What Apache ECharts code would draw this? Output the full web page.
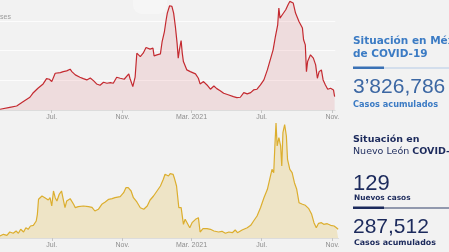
<!DOCTYPE html>
<html><head><meta charset="utf-8">
<script src="https://cdn.jsdelivr.net/npm/echarts@6/dist/echarts.min.js"></script>
<style>html,body{margin:0;padding:0;background:#f2f2f2;overflow:hidden}#c{width:449px;height:252px;}</style>
</head><body><div id="c"></div>
<script>
// México: casos diarios
const mxDates = ['2020-04-02','2020-04-19','2020-05-01','2020-05-12','2020-05-24','2020-05-29','2020-06-07','2020-06-16','2020-06-22','2020-06-27',
'2020-07-01','2020-07-07','2020-07-16','2020-07-21','2020-07-27','2020-08-02','2020-08-05','2020-08-11','2020-08-14','2020-08-19',
'2020-08-25','2020-08-31','2020-09-06','2020-09-12','2020-09-17','2020-09-23','2020-09-29','2020-10-05','2020-10-11','2020-10-16',
'2020-10-22','2020-10-28','2020-11-04','2020-11-12','2020-11-14','2020-11-19','2020-11-23','2020-11-26','2020-11-29','2020-12-02',
'2020-12-07','2020-12-12','2020-12-19','2020-12-24','2020-12-26','2020-12-31','2021-01-06','2021-01-09','2021-01-13','2021-01-16',
'2021-01-18','2021-01-22','2021-01-26','2021-01-29','2021-02-01','2021-02-04','2021-02-06','2021-02-08','2021-02-11','2021-02-13',
'2021-02-15','2021-02-21','2021-02-27','2021-03-08','2021-03-13','2021-03-16','2021-03-22','2021-03-28','2021-04-03','2021-04-09',
'2021-04-14','2021-04-20','2021-04-26','2021-05-05','2021-05-13','2021-05-19','2021-05-25','2021-05-31','2021-06-06','2021-06-12',
'2021-06-17','2021-06-23','2021-06-29','2021-07-05','2021-07-11','2021-07-16','2021-07-21','2021-07-25','2021-07-29','2021-07-31',
'2021-08-02','2021-08-06','2021-08-12','2021-08-16','2021-08-19','2021-08-22','2021-08-25','2021-08-29','2021-09-04','2021-09-10',
'2021-09-12','2021-09-15','2021-09-17','2021-09-19','2021-09-24','2021-09-29','2021-10-03','2021-10-06','2021-10-09','2021-10-13',
'2021-10-16','2021-10-20','2021-10-24','2021-10-29','2021-11-03','2021-11-05'];
const mxValues = [120,455,674,1400,2140,2810,3660,4380,5270,5170,
4770,6180,6290,6450,6570,6860,6450,5900,6120,5510,
5270,5055,5390,4890,4380,4160,4670,4500,4600,4500,
5510,5340,5170,6070,5340,3930,5510,9550,9720,8980,
9550,10500,10230,10400,9100,9270,9440,11510,13190,15170,
16290,17520,17410,16290,14040,11240,8710,10110,11680,9550,
8140,6740,6450,6070,5340,4380,4770,4210,3490,4040,
3590,3250,2810,2530,2240,2070,2140,2920,2700,2920,
3370,3490,4210,5055,6740,8430,10110,12350,14320,17140,
15450,16010,16850,17690,18250,18530,17980,16290,14880,13770,
11800,10950,6450,8140,9270,8710,7580,5340,6450,6740,
5055,4210,3490,3660,3370,2240];

// Nuevo León: casos diarios
const nlDates = ['2020-04-02','2020-04-08','2020-04-14','2020-04-19','2020-04-25','2020-04-30','2020-05-04','2020-05-08','2020-05-13','2020-05-17',
'2020-05-21','2020-05-25','2020-05-30','2020-06-04','2020-06-06','2020-06-08','2020-06-11','2020-06-14','2020-06-16','2020-06-19',
'2020-06-22','2020-06-25','2020-06-28','2020-07-01','2020-07-04','2020-07-07','2020-07-10','2020-07-14','2020-07-18','2020-07-21',
'2020-07-24','2020-07-27','2020-07-30','2020-08-02','2020-08-05','2020-08-08','2020-08-11','2020-08-16','2020-08-25','2020-09-03',
'2020-09-09','2020-09-14','2020-09-20','2020-09-26','2020-10-02','2020-10-08','2020-10-14','2020-10-19','2020-10-28','2020-11-03',
'2020-11-07','2020-11-11','2020-11-16','2020-11-20','2020-11-26','2020-12-02','2020-12-08','2020-12-14','2020-12-19','2020-12-25',
'2020-12-31','2021-01-06','2021-01-11','2021-01-14','2021-01-17','2021-01-20','2021-01-23','2021-01-28','2021-01-30','2021-02-03',
'2021-02-07','2021-02-11','2021-02-14','2021-02-15','2021-02-18','2021-02-21','2021-02-26','2021-03-02','2021-03-08','2021-03-13',
'2021-03-16','2021-03-21','2021-03-28','2021-04-03','2021-04-09','2021-04-17','2021-04-23','2021-04-29','2021-05-05','2021-05-11',
'2021-05-16','2021-05-20','2021-05-28','2021-06-06','2021-06-12','2021-06-17','2021-06-23','2021-06-29','2021-07-05','2021-07-11',
'2021-07-15','2021-07-19','2021-07-22','2021-07-24','2021-07-26','2021-07-28','2021-07-31','2021-08-03','2021-08-05','2021-08-07',
'2021-08-10','2021-08-13','2021-08-15','2021-08-19','2021-08-23','2021-08-27','2021-08-31','2021-09-04','2021-09-10','2021-09-15',
'2021-09-21','2021-09-26','2021-09-30','2021-10-04','2021-10-08','2021-10-13','2021-10-17','2021-10-23','2021-10-29','2021-11-04',
'2021-11-08','2021-11-11'];
const nlValues = [26,48,35,78,61,91,61,113,78,134,
113,156,165,221,308,503,524,546,568,524,
546,494,524,416,611,524,481,568,611,503,
394,481,503,511,503,438,394,407,416,407,
399,351,373,438,468,503,511,524,537,589,
654,654,611,524,468,394,373,416,494,546,
611,676,763,828,841,806,836,828,784,676,
394,394,373,178,243,221,134,199,243,264,
78,121,121,113,91,78,87,61,78,69,
104,69,104,134,165,221,286,394,524,633,
763,893,849,1196,1495,1196,1304,1196,936,1369,
1475,1326,1023,893,849,719,633,459,438,425,
381,308,199,134,191,199,178,186,165,156,
134,113];

const tickDates = ['2020-07-01','2020-11-01','2021-03-01','2021-07-01','2021-11-01'];
const tickLabels = ['Jul.','Nov.','Mar. 2021','Jul.','Nov.'];

function ts(s){const p=s.split('-');return Date.UTC(+p[0],+p[1]-1,+p[2]);}
const tickTs = tickDates.map(ts);
function fmt(v){const i=tickTs.indexOf(v);return i>=0?tickLabels[i]:'';}

const chart = echarts.init(document.getElementById('c'), null, {renderer:'canvas'});

function xAx(gi, maxDate){
  return {type:'value', gridIndex:gi, min:ts('2020-04-02'), max:ts(maxDate), scale:true,
    axisLine:{show:true, lineStyle:{color:'#dcdcdc', width:1}},
    axisTick:{show:true, customValues:tickTs, length:3, lineStyle:{color:'#c6c6c6'}},
    axisLabel:{show:true, customValues:tickTs, formatter:fmt, fontSize:7, color:'#8e8e8e', margin:4, fontFamily:'Liberation Sans', hideOverlap:false},
    splitLine:{show:false}};
}

const font = '"DejaVu Sans", "Noto Sans", sans-serif';
const numFont = '"Liberation Sans", Arial, sans-serif';

chart.setOption({
  animation:false,
  backgroundColor:'#f2f2f2',
  grid:[
    {left:0, top:-9, width:335.2, height:119, outerBoundsMode:'none', containLabel:false},
    {left:0, top:122.6, width:338.7, height:115.4, outerBoundsMode:'none', containLabel:false}
  ],
  xAxis:[ xAx(0,'2021-11-06'), xAx(1,'2021-11-12') ],
  yAxis:[
    {type:'value', gridIndex:0, min:0, max:20000, interval:5000,
     axisLabel:{show:false}, axisLine:{show:false}, axisTick:{show:false},
     splitLine:{show:true, lineStyle:{color:'#fcfcfc', width:1}}},
    {type:'value', gridIndex:1, min:0, max:1500,
     axisLabel:{show:false}, axisLine:{show:false}, axisTick:{show:false},
     splitLine:{show:false}}
  ],
  series:[
    {type:'line', xAxisIndex:0, yAxisIndex:0, symbol:'none', smooth:false,
     data: mxDates.map((d,i)=>[ts(d), mxValues[i]]),
     lineStyle:{color:'#c42a30', width:1.2},
     areaStyle:{color:'rgba(210,40,50,0.15)'}},
    {type:'line', xAxisIndex:1, yAxisIndex:1, symbol:'none', smooth:false,
     data: nlDates.map((d,i)=>[ts(d), nlValues[i]]),
     lineStyle:{color:'#dcae2e', width:1.2},
     areaStyle:{color:'rgba(225,180,40,0.30)'}}
  ],
  graphic:[
    {type:'rect', shape:{x:133, y:-12, width:34, height:26, r:9}, style:{fill:'rgba(255,255,255,0.35)'}, z:-1, silent:true},
    {type:'text', style:{x:0, y:17, text:'ses', font:'7px '+numFont, fill:'#9a9a9a', textVerticalAlign:'middle'}},
    {type:'text', style:{x:353, y:41, text:'Situación en México', font:'bold 10.5px '+font, fill:'#3b7bc4', textVerticalAlign:'middle'}},
    {type:'text', style:{x:353, y:54.5, text:'de COVID-19', font:'bold 10.5px '+font, fill:'#3b7bc4', textVerticalAlign:'middle'}},
    {type:'rect', shape:{x:384, y:67.5, width:65, height:1}, style:{fill:'#b3c9e6'}},
    {type:'rect', shape:{x:353, y:66.5, width:31, height:2.5}, style:{fill:'#3a71b5'}},
    {type:'text', style:{x:353, y:87.5, text:'3\u2019826,786', font:'21px '+numFont, fill:'#3c67a3', textVerticalAlign:'middle'}},
    {type:'text', style:{x:353, y:105, text:'Casos acumulados', font:'bold 8.2px '+font, fill:'#3b7bc4', textVerticalAlign:'middle'}},
    {type:'text', style:{x:353, y:139.5, text:'Situación en', font:'bold 9.5px '+font, fill:'#1c2a5c', textVerticalAlign:'middle'}},
    {type:'text', style:{x:353, y:151.5, text:'{r|Nuevo León }{b|COVID-19}', textVerticalAlign:'middle',
      rich:{r:{font:'9.5px '+font, fill:'#1c2a5c'}, b:{font:'bold 9.5px '+font, fill:'#1c2a5c'}}}},
    {type:'text', style:{x:353, y:183.5, text:'129', font:'22px '+numFont, fill:'#1c2a5c', textVerticalAlign:'middle'}},
    {type:'text', style:{x:354, y:198.5, text:'Nuevos casos', font:'bold 7.4px '+font, fill:'#1c2a5c', textVerticalAlign:'middle'}},
    {type:'rect', shape:{x:353, y:207.5, width:96, height:1}, style:{fill:'#33406a'}},
    {type:'rect', shape:{x:353, y:206.5, width:31, height:2.5}, style:{fill:'#1c2a5c'}},
    {type:'text', style:{x:353, y:227.5, text:'287,512', font:'21px '+numFont, fill:'#1c2a5c', textVerticalAlign:'middle'}},
    {type:'text', style:{x:354, y:242.5, text:'Casos acumulados', font:'bold 7.9px '+font, fill:'#1c2a5c', textVerticalAlign:'middle'}}
  ]
});
</script></body></html>
